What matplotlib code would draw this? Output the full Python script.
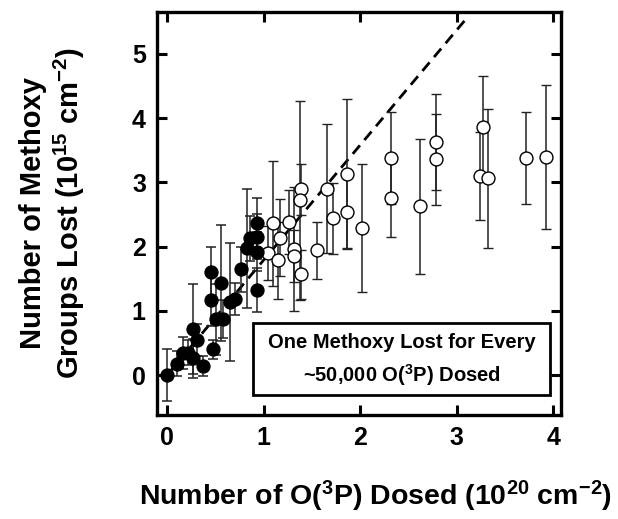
import matplotlib
matplotlib.use("Agg")
import matplotlib.pyplot as plt
from matplotlib.patches import Rectangle

plt.rcParams['font.family'] = ['Liberation Sans', 'DejaVu Sans']
plt.rcParams['font.weight'] = 'bold'
plt.rcParams['mathtext.fontset'] = 'custom'
plt.rcParams['mathtext.rm'] = 'Liberation Sans:bold'
plt.rcParams['mathtext.it'] = 'Liberation Sans:bold'
plt.rcParams['mathtext.bf'] = 'Liberation Sans:bold'

# Filled points (low dose)
filled_x = [0.00, 0.10, 0.17, 0.22, 0.27, 0.37, 0.31, 0.27, 0.48, 0.51, 0.58, 0.46,
            0.46, 0.56, 0.65, 0.70, 0.77, 0.93, 0.83, 0.93, 0.86, 0.93, 0.93]
filled_y = [0.00, 0.18, 0.34, 0.35, 0.26, 0.14, 0.55, 0.71, 0.40, 0.87, 0.87, 1.17,
            1.60, 1.43, 1.14, 1.19, 1.65, 1.32, 1.97, 1.92, 2.13, 2.15, 2.36]
filled_err = [0.41, 0.20, 0.25, 0.20, 0.30, 0.15, 0.25, 0.70, 0.15, 0.55, 0.30, 0.40,
              0.40, 0.90, 0.92, 0.25, 0.35, 0.34, 0.92, 0.30, 0.35, 0.35, 0.40]

# Open points (high dose)
open_x = [1.10, 1.26, 1.17, 1.05, 1.15, 1.31, 1.31, 1.39, 1.38, 1.39, 1.55, 1.66, 1.72,
          1.86, 1.86, 2.02, 2.32, 2.32, 2.62, 2.78, 2.78, 3.27, 3.24, 3.32, 3.72, 3.92]
open_y = [2.36, 2.38, 2.14, 1.90, 1.79, 1.96, 1.85, 2.89, 2.72, 1.57, 1.94, 2.90, 2.44,
          3.13, 2.54, 2.29, 3.38, 2.75, 2.63, 3.63, 3.36, 3.86, 3.10, 3.06, 3.38, 3.39]
open_err = [0.97, 0.50, 0.60, 0.42, 0.60, 0.96, 0.40, 0.40, 1.55, 0.38, 0.45, 1.00, 0.55,
            1.17, 0.57, 1.00, 0.71, 0.60, 1.05, 0.75, 0.71, 0.80, 0.68, 1.08, 0.71, 1.12]

# Linear fit: one methoxy per ~50,000 O(3P)
fit_x = [0.0, 3.1]
fit_slope = 1.79

fig = plt.figure(figsize=(6.18, 5.19), dpi=100)
ax = fig.add_axes([0.254, 0.2004, 0.654, 0.7766])

ax.plot(fit_x, [fit_slope * x for x in fit_x], color='black', linestyle=(0, (4, 2.5)),
        linewidth=2.0, zorder=1)

ax.errorbar(open_x, open_y, yerr=open_err, fmt='o', ms=9.3, mfc='white', mec='black',
            mew=1.0, ecolor='#222222', elinewidth=1.1, capsize=3.4, capthick=1.1, zorder=2)
ax.errorbar(filled_x, filled_y, yerr=filled_err, fmt='o', ms=9.3, mfc='black', mec='black',
            ecolor='#222222', elinewidth=1.1, capsize=3.4, capthick=1.1, zorder=3)

ax.set_xlim(-0.104, 4.08)
ax.set_ylim(-0.62, 5.65)
ax.set_xticks([0, 1, 2, 3, 4])
ax.set_yticks([0, 1, 2, 3, 4, 5])
ax.tick_params(direction='in', length=7, width=2.2, labelsize=18, pad=8,
               top=True, right=True)
for s in ax.spines.values():
    s.set_linewidth(2.4)

ax.set_xlabel(r'Number of O($^{3}$P) Dosed (10$^{20}$ cm$^{-2}$)', fontsize=20.5,
              fontweight='bold', labelpad=21)
ax.xaxis.label.set_x(0.54)
ax.set_ylabel('Number of Methoxy\n' + r'Groups Lost (10$^{15}$ cm$^{-2}$)', fontsize=21,
              fontweight='bold', labelpad=32, linespacing=1.2)

ax.add_patch(Rectangle((0.238, 0.0496), 0.735, 0.178, transform=ax.transAxes,
                       facecolor='white', edgecolor='black', linewidth=2.0, zorder=4))
ax.text(0.6055, 0.180, 'One Methoxy Lost for Every', transform=ax.transAxes,
        ha='center', va='center', fontsize=14.5, fontweight='bold', zorder=5)
ax.text(0.6055, 0.098, r'~50,000 O($^{3}$P) Dosed', transform=ax.transAxes,
        ha='center', va='center', fontsize=14.5, fontweight='bold', zorder=5)

fig.savefig('out.png', dpi=100)
